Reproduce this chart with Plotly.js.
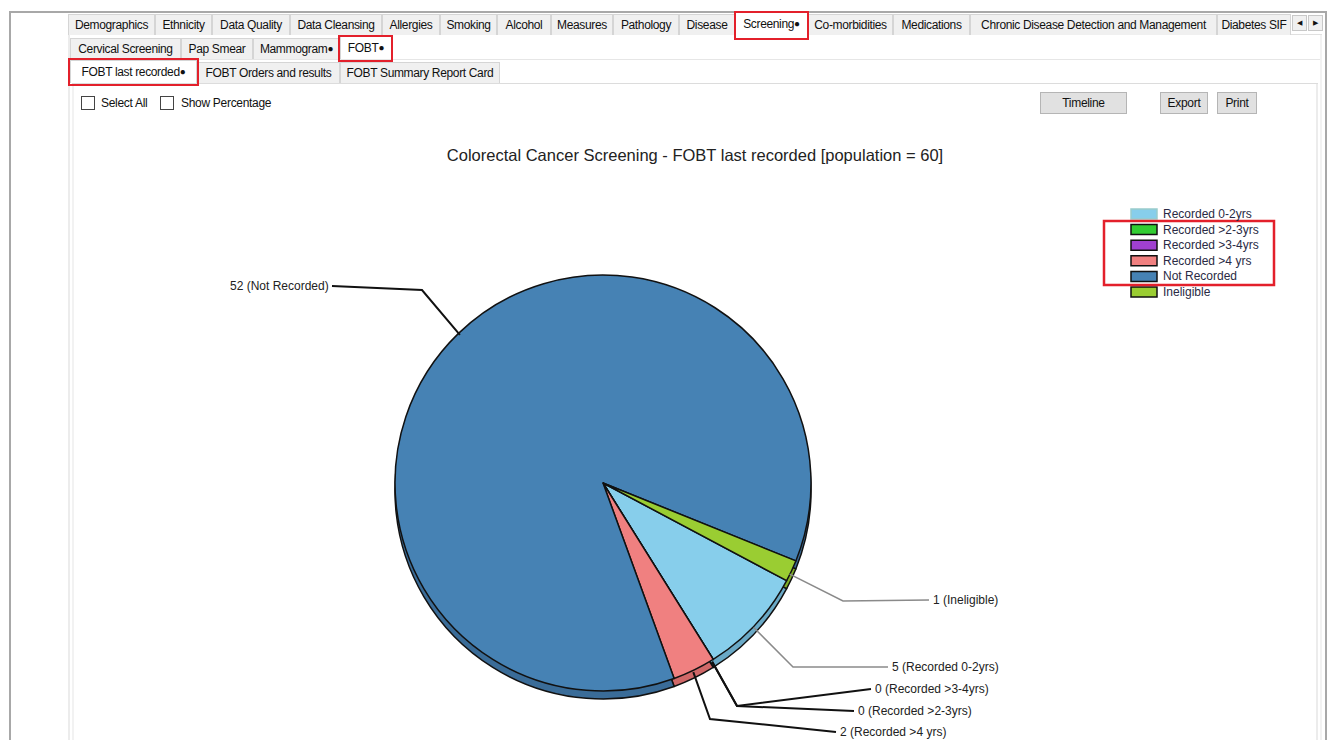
<!DOCTYPE html>
<html><head><meta charset="utf-8">
<script src="https://cdn.plot.ly/plotly-3.0.1.min.js"></script>
<style>
body{margin:0;width:1332px;height:740px;overflow:hidden;background:#fff;font-family:"Liberation Sans",Arial,sans-serif;font-size:12px;color:#111;position:relative}
.tab{position:absolute;height:21px;line-height:20px;background:#f0f0f0;border:1px solid #d5d5d5;border-bottom:none;text-align:center;white-space:nowrap;letter-spacing:-0.35px;box-sizing:border-box;overflow:hidden}
.sel{background:#fff}
.red{position:absolute;border:2.5px solid #e3202b;box-sizing:border-box;z-index:3}
.btn{position:absolute;background:#e1e1e1;border:1px solid #b5b5b5;box-sizing:border-box;text-align:center;line-height:20px;height:22px;letter-spacing:-0.3px}
.cb{position:absolute;width:14px;height:14px;border:1px solid #444;box-sizing:border-box;background:#fff}
.txt{position:absolute;white-space:nowrap;letter-spacing:-0.3px}
.dot{font-size:10px;vertical-align:1px}
.vl{position:absolute;width:2px;background:#ececec}
#chart{position:absolute;left:0;top:0;width:1332px;height:740px;z-index:5}
</style></head>
<body>
<div style="position:absolute;left:9px;top:11px;width:1314px;height:740px;border-left:2px solid #a8a8a8;border-top:2px solid #a8a8a8;border-right:2px solid #a8a8a8"></div>
<div class="vl" style="left:68px;top:35px;height:705px"></div>
<div class="vl" style="left:72px;top:84px;height:656px;background:#f2f2f2"></div>
<div class="vl" style="left:1316px;top:84px;height:656px;background:#ececec"></div>
<div class="vl" style="left:1320px;top:35px;height:705px;background:#f2f2f2"></div>
<div style="position:absolute;left:68px;top:34px;width:1254px;height:1px;background:#e0e0e0"></div>
<div style="position:absolute;left:70px;top:59px;width:1250px;height:1px;background:#e6e6e6"></div>
<div style="position:absolute;left:72px;top:83px;width:1246px;height:1px;background:#dcdcdc"></div>
<div id="chrome"></div>
<div class="cb" style="left:81px;top:96px"></div><div class="txt" style="left:101px;top:96px">Select All</div>
<div class="cb" style="left:160px;top:96px"></div><div class="txt" style="left:181px;top:96px">Show Percentage</div>
<div class="btn" style="left:1040px;top:92px;width:87px">Timeline</div>
<div class="btn" style="left:1160px;top:92px;width:48px">Export</div>
<div class="btn" style="left:1217px;top:92px;width:40px">Print</div>
<div class="red" style="left:734px;top:11px;width:75px;height:29px"></div>
<div class="red" style="left:338px;top:35px;width:55px;height:27px"></div>
<div class="red" style="left:68px;top:58px;width:131px;height:28px"></div>
<div id="chart"></div>
<script>
// ---- data ----
const categories = ["Recorded 0-2yrs", "Recorded >2-3yrs", "Recorded >3-4yrs", "Recorded >4 yrs", "Not Recorded", "Ineligible"];
const counts = [5, 0, 0, 2, 52, 1];
const population = 60;
const chartTitle = "Colorectal Cancer Screening - FOBT last recorded [population = " + population + "]";

// ---- styles ----
const sliceColors = ["#87CEEB", "#32CD32", "#A040D0", "#F08080", "#4682B4", "#9ACD32"];
const sideColors  = ["#6aa9c6", "#28a428", "#8030a8", "#d06868", "#3a6c98", "#7fae28"];

// ---- UI chrome (tabs) ----
const tabRows = [
  {y:14, tabs:[["Demographics",68,155],["Ethnicity",155,212],["Data Quality",212,290],["Data Cleansing",290,382],["Allergies",382,440],["Smoking",440,497],["Alcohol",497,551],["Measures",551,613],["Pathology",613,679],["Disease",679,735],["Screening",735,808,1,1],["Co-morbidities",808,893],["Medications",893,970],["Chronic Disease Detection and Management",970,1217],["Diabetes SIF",1217,1291]]},
  {y:38, tabs:[["Cervical Screening",70,181],["Pap Smear",181,253],["Mammogram",253,340,0,1],["FOBT",340,392,1,1]]},
  {y:62, tabs:[["FOBT last recorded",70,197,1,1],["FOBT Orders and results",197,340],["FOBT Summary Report Card",340,500]]}
];
let html = "";
tabRows.forEach(r => r.tabs.forEach(t => {
  const sel = t[3] ? " sel" : "";
  const dot = t[4] ? '<span class="dot">&#9679;</span>' : "";
  const ty = t[3] ? r.y - 2 : r.y;
  const h = t[3] ? 23 : 21;
  html += `<div class="tab${sel}" style="left:${t[1]}px;top:${ty}px;width:${t[2]-t[1]}px;height:${h}px;line-height:${h-1}px">${t[0]}${dot}</div>`;
}));
html += `<div class="tab" style="left:1292px;top:15px;width:15px;height:16px;line-height:14px;font-size:7px;border:1px solid #c8c8c8">&#9664;</div>`;
html += `<div class="tab" style="left:1308px;top:15px;width:15px;height:16px;line-height:14px;font-size:7px;border:1px solid #c8c8c8">&#9654;</div>`;
document.getElementById("chrome").innerHTML = html;

// ---- chart geometry (layout, pixels) ----
const W = 1332, H = 740;
const cx = 603, cy = 483, R = 208, depth = 8;
const rotation = 118;
const px = x => x / W, py = y => 1 - y / H;

// label layout: [elbowX, elbowY, labelX, labelY, anchor side, line colour, line width]
const labelLayout = [
  [793, 667, 890, 667, "left", "#8a8a8a", 1.5],
  [737, 706, 856, 711, "left", "#111", 2],
  [737, 706, 873, 689, "left", "#111", 2],
  [710, 719, 838, 732, "left", "#111", 2],
  [422, 290, 331, 286, "right", "#111", 2],
  [843, 601, 931, 600, "left", "#8a8a8a", 1.5]
];

const total = counts.reduce((a, b) => a + b, 0);
const shapes = [], annotations = [];
let cum = 0;
counts.forEach((v, i) => {
  const a0 = rotation + cum / total * 360;
  const a1 = rotation + (cum + v) / total * 360;
  cum += v;
  const mid = (a0 + a1) / 2 * Math.PI / 180;
  const ax = cx + (R - 2) * Math.sin(mid);
  const ay = cy - (R - 2) * Math.cos(mid) + (Math.cos(mid) < 0 ? 4 : 0);
  const L = labelLayout[i];
  const endX = L[4] === "left" ? L[2] - 2 : L[2] + 1;
  shapes.push({type: "path", xref: "paper", yref: "paper",
    path: `M${px(ax)},${py(ay)} L${px(L[0])},${py(L[1])} L${px(endX)},${py(L[3])}`,
    line: {color: L[5], width: L[6]}, layer: "above"});
  annotations.push({xref: "paper", yref: "paper", x: px(L[2]), y: py(L[3]),
    xanchor: L[4], yanchor: "middle", showarrow: false,
    text: v + " (" + categories[i] + ")",
    font: {family: "Liberation Sans, Arial, sans-serif", size: 12, color: "#222"}});
});

// custom legend
const legX = 1131, legY = 214, legStep = 15.6;
categories.forEach((c, i) => {
  const y = legY + i * legStep;
  shapes.push({type: "rect", xref: "paper", yref: "paper",
    x0: px(legX), x1: px(legX + 26), y0: py(y - 5), y1: py(y + 5),
    fillcolor: sliceColors[i], line: {color: i === 0 ? "#9cc" : "#111", width: 1.5}});
  annotations.push({xref: "paper", yref: "paper", x: px(legX + 30), y: py(y),
    xanchor: "left", yanchor: "middle", showarrow: false, text: c,
    font: {family: "Liberation Sans, Arial, sans-serif", size: 12, color: "#2a2a44"}});
});
shapes.push({type: "rect", xref: "paper", yref: "paper",
  x0: px(1104), x1: px(1274), y0: py(285), y1: py(221),
  line: {color: "#e3202b", width: 2.5}});

const pieBase = {
  type: "pie", labels: categories, values: counts, sort: false,
  direction: "clockwise", rotation: rotation, textinfo: "none",
  showlegend: false, hoverinfo: "label+value"
};
const shadowPie = Object.assign({}, pieBase, {
  marker: {colors: sideColors, line: {color: "#111", width: 1.5}},
  domain: {x: [px(cx - R), px(cx + R)], y: [py(cy + depth + R), py(cy + depth - R)]},
  hoverinfo: "skip"
});
const mainPie = Object.assign({}, pieBase, {
  marker: {colors: sliceColors, line: {color: "#111", width: 1.5}},
  domain: {x: [px(cx - R), px(cx + R)], y: [py(cy + R), py(cy - R)]}
});

const layout = {
  width: W, height: H, margin: {l: 0, r: 0, t: 0, b: 0},
  paper_bgcolor: "rgba(0,0,0,0)", plot_bgcolor: "rgba(0,0,0,0)",
  title: {text: chartTitle, x: px(695), y: py(155), xanchor: "center", yanchor: "middle",
    font: {family: "Liberation Sans, Arial, sans-serif", size: 16.5, color: "#222"}},
  shapes: shapes, annotations: annotations
};
Plotly.newPlot("chart", [shadowPie, mainPie], layout, {displayModeBar: false, staticPlot: true});
</script>
</body></html>
